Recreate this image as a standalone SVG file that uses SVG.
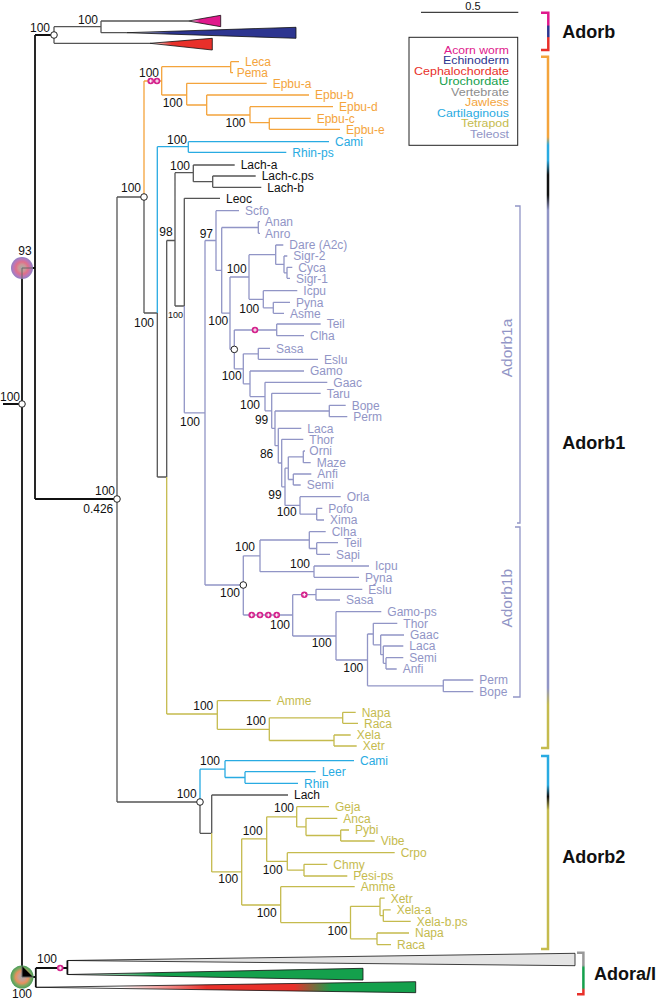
<svg xmlns="http://www.w3.org/2000/svg" xmlns:xlink="http://www.w3.org/1999/xlink" width="657" height="1000" viewBox="0 0 657 1000">
<style>
text{font-family:"Liberation Sans",Arial,sans-serif;font-size:12px}
.k{stroke:#111;stroke-width:1.8;fill:none}
.g{stroke:#555;stroke-width:1.3;fill:none}
.o{stroke:#f4a43c;stroke-width:1.3;fill:none}
.c{stroke:#29abe2;stroke-width:1.3;fill:none}
.t{stroke:#9195c6;stroke-width:1.3;fill:none}
.y{stroke:#c5bb4e;stroke-width:1.3;fill:none}
.n{fill:#111;text-anchor:end}
.ns{fill:#111;text-anchor:end;font-size:9px}
.lo{fill:#f4a43c}.lc{fill:#29abe2}.lk{fill:#111}.lt{fill:#9195c6}.ly{fill:#c5bb4e}
.grp{font-size:18px;font-weight:bold;fill:#111}
.sub{font-size:15.5px;fill:#9195c6;text-anchor:middle}
.leg{text-anchor:end;font-size:10.5px}
.oc{fill:#fff;stroke:#222;stroke-width:1}
.tri{stroke:#111;stroke-width:0.8}
</style>
<defs>
<g id="mk"><circle r="3.3" fill="#d4228c"/><path d="M-1.8,0H1.8M0,-1.8V1.8" stroke="#fff" stroke-width="1.1"/></g>
<linearGradient id="gM" x1="0" x2="1" y1="0" y2="0"><stop offset="0" stop-color="#fff"/><stop offset="0.35" stop-color="#e0188c"/></linearGradient>
<linearGradient id="gB" x1="0" x2="1" y1="0" y2="0"><stop offset="0" stop-color="#fff"/><stop offset="0.25" stop-color="#2d3590"/></linearGradient>
<linearGradient id="gR" x1="0" x2="1" y1="0" y2="0"><stop offset="0" stop-color="#fff"/><stop offset="0.35" stop-color="#e8302a"/></linearGradient>
<linearGradient id="gG" x1="0" x2="1" y1="0" y2="0"><stop offset="0" stop-color="#fff"/><stop offset="0.3" stop-color="#14a04c"/></linearGradient>
<linearGradient id="gRG" x1="0" x2="1" y1="0" y2="0"><stop offset="0" stop-color="#fff"/><stop offset="0.22" stop-color="#fff"/><stop offset="0.45" stop-color="#e8302a"/><stop offset="0.68" stop-color="#e8302a"/><stop offset="0.78" stop-color="#14a04c"/><stop offset="1" stop-color="#14a04c"/></linearGradient>
<linearGradient id="bA" gradientUnits="userSpaceOnUse" x1="0" y1="12.7" x2="0" y2="50"><stop offset="0.33" stop-color="#e0188c"/><stop offset="0.36" stop-color="#2d3590"/><stop offset="0.64" stop-color="#2d3590"/><stop offset="0.67" stop-color="#e8302a"/></linearGradient>
<linearGradient id="bA1" gradientUnits="userSpaceOnUse" x1="0" y1="56.7" x2="0" y2="748"><stop offset="0.116" stop-color="#f4a43c"/><stop offset="0.128" stop-color="#29abe2"/><stop offset="0.15" stop-color="#29abe2"/><stop offset="0.171" stop-color="#111"/><stop offset="0.2" stop-color="#111"/><stop offset="0.222" stop-color="#9195c6"/><stop offset="0.913" stop-color="#9195c6"/><stop offset="0.938" stop-color="#c5bb4e"/></linearGradient>
<linearGradient id="bA2" gradientUnits="userSpaceOnUse" x1="0" y1="756" x2="0" y2="949"><stop offset="0.15" stop-color="#29abe2"/><stop offset="0.21" stop-color="#111"/><stop offset="0.28" stop-color="#c5bb4e"/></linearGradient>
<linearGradient id="bAI" gradientUnits="userSpaceOnUse" x1="0" y1="952.7" x2="0" y2="994.3"><stop offset="0.3" stop-color="#999"/><stop offset="0.36" stop-color="#14a04c"/><stop offset="0.84" stop-color="#14a04c"/><stop offset="0.9" stop-color="#e8302a"/></linearGradient>
<radialGradient id="r93"><stop offset="0" stop-color="#a8a8a8"/><stop offset="0.3" stop-color="#c99a9a"/><stop offset="0.55" stop-color="#e0708a"/><stop offset="0.8" stop-color="#b878b8"/><stop offset="1" stop-color="#9080c4"/></radialGradient>
<radialGradient id="rRoot"><stop offset="0" stop-color="#a8a8a8"/><stop offset="0.3" stop-color="#c8a090"/><stop offset="0.55" stop-color="#e8905e"/><stop offset="0.78" stop-color="#7ea860"/><stop offset="1" stop-color="#4a9e5a"/></radialGradient>
</defs>

<g id="connectors">
<path class="k" d="M3,404H22M22,268V977M22,268H35M35,35V499M35,35H54M35,499H117M22,977H35.8M35.8,968V987.3M35.8,968H67.4M67.4,960.5V974.5"/>
<path class="g" d="M54,26.7V43.3M54,26.7H101M101,21V32.7M101,21H188.3M101,32.7H126.7M54,43.3H150"/>
<path class="g" d="M117,197V802M117,197H144M144,197V313M144,313H157.3M157.3,313V477M157.3,477H166.7M166.7,240.5V477M166.7,240.5H175M175,172.7V306M175,172.7H193.3M175,306H184.3M184.3,198.3V306M184.3,198.3H220M193.3,165V181.7M193.3,165H234.7M193.3,181.7H212.7M212.7,176V187.3M212.7,176H255.7M212.7,187.3H261.3M117,802H200M200,802V833.3M200,833.3H211.7M211.7,795V833.3M211.7,795H288"/>
<path class="o" d="M144,81V197M144,81H161.7M161.7,66.7V95M161.7,66.7H230.7M230.7,61.7V72.7M230.7,61.7H239M230.7,72.7H233M161.7,95H186.7M186.7,83.3V105M186.7,83.3H266.7M186.7,105H206.7M206.7,95V115M206.7,95H309M206.7,115H250M250,106.7V122.7M250,106.7H333M250,122.7H269.3M269.3,118.3V129.3M269.3,118.3H310.7M269.3,129.3H340"/>
<path class="c" d="M157.3,146.7V313M157.3,146.7H188.3M188.3,141.7V152.3M188.3,141.7H329M188.3,152.3H286.3"/>
<path class="t" d="M184.3,306V412.8M184.3,412.8H205M205,240.5V585M205,240.5H216M216,210.7V270.4M216,210.7H239M216,270.4H221.7M221.7,227.5V313.2M221.7,227.5H258.3M258.3,221.7V233.3M258.3,221.7H260M258.3,233.3H260M221.7,313.2H230M230,277V349.4M230,277H249M249,254.7V299.3M249,254.7H275.7M275.7,245V264.4M275.7,245H283.3M275.7,264.4H284M284,256V272.8M284,256H287.3M284,272.8H287M287,267.3V278.3M287,267.3H292.3M287,278.3H290M249,299.3H263.3M263.3,290.7V307.8M263.3,290.7H297.3M263.3,307.8H273.3M273.3,302.3V313.3M273.3,302.3H290M273.3,313.3H284M230,349.4H234.3M234.3,330V368.8M234.3,330H276.7M276.7,324V335.7M276.7,324H320.7M276.7,335.7H304M234.3,368.8H243.3M243.3,353.8V383.8M243.3,353.8H258.3M258.3,348.3V359.3M258.3,348.3H270M258.3,359.3H318M243.3,383.8H250M250,371V396.6M250,371H304M250,396.6H265M265,382.3V410.8M265,382.3H327.3M265,410.8H271.7M271.7,393.3V428.3M271.7,393.3H320.7M271.7,428.3H275M275,411V445.7M275,411H329.3M329.3,405.3V416.7M329.3,405.3H345.7M329.3,416.7H347.3M275,445.7H278.3M278.3,428.3V463M278.3,428.3H301.3M278.3,463H281.7M281.7,439.3V486.8M281.7,439.3H303.3M281.7,486.8H285M285,468.2V505.4M285,468.2H288.3M288.3,456.8V479.5M288.3,456.8H303.3M303.3,451V462.7M303.3,451H305M303.3,462.7H310.7M288.3,479.5H293.3M293.3,474V485M293.3,474H311.3M293.3,485H300.7M285,505.4H300M300,496.7V514.2M300,496.7H340.7M300,514.2H316.7M316.7,508.3V520M316.7,508.3H322.3M316.7,520H324"/>
<path class="t" d="M205,585H243.3M243.3,555.8V615M243.3,555.8H260M260,540V571.7M260,540H309.3M309.3,531.7V548.5M309.3,531.7H325.7M309.3,548.5H316.7M316.7,542.7V554.3M316.7,542.7H338M316.7,554.3H330M260,571.7H314M314,566V577.3M314,566H369M314,577.3H359M243.3,615H292.7M292.7,594.7V636M292.7,594.7H316M316,589.3V600M316,589.3H362.3M316,600H340M292.7,636H336M336,611.7V660M336,611.7H381.3M336,660H367.5M367.5,634V685.8M367.5,685.8H443.3M443.3,680V691.7M443.3,680H473.3M443.3,691.7H473.3M367.5,634H373.3M373.3,623.3V644.8M373.3,623.3H397.3M373.3,644.8H380.7M380.7,635V654.7M380.7,635H404M380.7,654.7H383.3M383.3,646V663.3M383.3,646H403.3M383.3,663.3H386M386,657.7V669M386,657.7H403.3M386,669H396.7"/>
<path class="y" d="M166.7,477V714M166.7,714H217.3M217.3,700.7V729.3M217.3,700.7H270.7M217.3,729.3H269.3M269.3,717.8V740.5M269.3,717.8H342.7M342.7,712.3V723.3M342.7,712.3H355.7M342.7,723.3H358M269.3,740.5H334M334,735V746M334,735H350.7M334,746H356.7"/>
<path class="c" d="M200,769.2V802M200,769.2H225M225,760.7V777.5M225,760.7H354M225,777.5H245M245,771.7V783.3M245,771.7H315.7M245,783.3H298"/>
<path class="y" d="M211.7,833.3V871.9M211.7,871.9H241.7M241.7,838.8V905M241.7,838.8H266.7M266.7,816.8V861.4M266.7,816.8H296.7M296.7,806.7V826.9M296.7,806.7H329M296.7,826.9H306M306,818.3V835.5M306,818.3H337.3M306,835.5H340.7M340.7,830V841M340.7,830H349M340.7,841H374.7M266.7,861.4H287.3M287.3,852.7V870.2M287.3,852.7H394.7M287.3,870.2H304M304,864.3V876M304,864.3H327.3M304,876H347.3M241.7,905H280.7M280.7,886.7V922.6M280.7,886.7H354.7M280.7,922.6H350.5M350.5,906.3V938.8M350.5,906.3H380M380,898.2V915.6M380,898.2H384.7M380,915.6H383.3M383.3,909.8V921.4M383.3,909.8H390.7M383.3,921.4H410.7M350.5,938.8H377M377,933V944.6M377,933H409M377,944.6H391"/>
</g>

<g id="collapsed">
<polygon class="tri" points="188.3,21 220.7,15.3 220.7,26.7" fill="url(#gM)"/>
<polygon class="tri" points="126.7,32.7 296,27.3 296,38.3" fill="url(#gB)"/>
<polygon class="tri" points="150,43.3 212.3,38.3 212.3,50" fill="url(#gR)"/>
<polygon class="tri" points="67.4,960.5 575,953.3 575,965.7" fill="#e4e4e4" stroke-width="1"/>
<polygon class="tri" points="67.4,974.5 363,968.3 363,980" fill="url(#gG)"/>
<polygon class="tri" points="35.8,987.3 415.7,981.7 415.7,992.7" fill="url(#gRG)"/>
</g>

<g id="nodes">
<circle cx="22" cy="268" r="11" fill="url(#r93)"/>
<path d="M22,268H33M22,268V279" stroke="#666" stroke-width="1"/>
<circle cx="22" cy="977" r="11.5" fill="url(#rRoot)"/>
<path d="M22,966V977H33" stroke="#666" stroke-width="1"/>
<circle class="oc" cx="54" cy="35" r="3.3"/>
<circle class="oc" cx="22" cy="404" r="3.3"/>
<circle class="oc" cx="117" cy="499" r="3.3"/>
<circle class="oc" cx="144" cy="197" r="3.3"/>
<circle class="oc" cx="234.3" cy="349.4" r="3.3"/>
<circle class="oc" cx="243.3" cy="585" r="3.3"/>
<circle class="oc" cx="200" cy="802" r="3.3"/>
<use href="#mk" x="150.7" y="81"/><use href="#mk" x="157" y="81"/>
<use href="#mk" x="255" y="330"/>
<use href="#mk" x="304.3" y="594.7"/>
<use href="#mk" x="251.7" y="615"/><use href="#mk" x="260" y="615"/><use href="#mk" x="268.3" y="615"/><use href="#mk" x="276.7" y="615"/>
<use href="#mk" x="60.2" y="968"/>
</g>

<g id="support">
<text class="n" x="50" y="32">100</text>
<text class="n" x="98" y="24">100</text>
<text class="n" x="25" y="255" style="text-anchor:middle">93</text>
<text class="n" x="20" y="401">100</text>
<text class="n" x="115" y="495">100</text>
<text class="n" x="113.3" y="513">0.426</text>
<text class="n" x="141" y="192">100</text>
<text class="n" x="159" y="76.5">100</text>
<text class="n" x="182.7" y="107">100</text>
<text class="n" x="245.5" y="126.5">100</text>
<text class="n" x="187" y="144">100</text>
<text class="n" x="190" y="170">100</text>
<text class="n" x="172.7" y="236">98</text>
<text class="n" x="213" y="237.5">97</text>
<text class="n" x="154" y="327">100</text>
<text class="ns" x="183" y="318">100</text>
<text class="n" x="246.7" y="273">100</text>
<text class="n" x="259.3" y="313">100</text>
<text class="n" x="228.3" y="325">100</text>
<text class="n" x="200" y="426">100</text>
<text class="n" x="241.7" y="380">100</text>
<text class="n" x="260" y="409">100</text>
<text class="n" x="268.3" y="424">99</text>
<text class="n" x="273.3" y="458">86</text>
<text class="n" x="281.7" y="499">99</text>
<text class="n" x="296.7" y="516">100</text>
<text class="n" x="255" y="551">100</text>
<text class="n" x="310" y="568">100</text>
<text class="n" x="240" y="597">100</text>
<text class="n" x="290" y="629">100</text>
<text class="n" x="331.7" y="647">100</text>
<text class="n" x="363.3" y="672">100</text>
<text class="n" x="213.3" y="709.7">100</text>
<text class="n" x="266" y="725">100</text>
<text class="n" x="220" y="765">100</text>
<text class="n" x="196.7" y="798">100</text>
<text class="n" x="294" y="812">100</text>
<text class="n" x="262.7" y="835">100</text>
<text class="n" x="282.7" y="874">100</text>
<text class="n" x="238.3" y="883">100</text>
<text class="n" x="276.7" y="917">100</text>
<text class="n" x="347.5" y="935">100</text>
<text class="n" x="57" y="963">100</text>
<text class="n" x="22" y="998" style="text-anchor:middle">100</text>
</g>

<g id="leaves">
<text class="lo" x="245" y="66">Leca</text>
<text class="lo" x="236.7" y="77">Pema</text>
<text class="lo" x="272.7" y="87.6">Epbu-a</text>
<text class="lo" x="315" y="99.3">Epbu-b</text>
<text class="lo" x="339" y="111">Epbu-d</text>
<text class="lo" x="316.7" y="122.6">Epbu-c</text>
<text class="lo" x="346" y="133.6">Epbu-e</text>
<text class="lc" x="335" y="146">Cami</text>
<text class="lc" x="292.3" y="156.6">Rhin-ps</text>
<text class="lk" x="240.7" y="169.3">Lach-a</text>
<text class="lk" x="261.7" y="180.3">Lach-c.ps</text>
<text class="lk" x="267.3" y="191.6">Lach-b</text>
<text class="lk" x="226" y="202.6">Leoc</text>
<text class="lt" x="245" y="215">Scfo</text>
<text class="lt" x="265" y="226">Anan</text>
<text class="lt" x="265" y="237.6">Anro</text>
<text class="lt" x="289.3" y="249.3">Dare (A2c)</text>
<text class="lt" x="293.3" y="260.3">Sigr-2</text>
<text class="lt" x="298.3" y="271.6">Cyca</text>
<text class="lt" x="296" y="282.6">Sigr-1</text>
<text class="lt" x="303.3" y="295">Icpu</text>
<text class="lt" x="296" y="306.6">Pyna</text>
<text class="lt" x="290" y="317.6">Asme</text>
<text class="lt" x="326.7" y="328.3">Teil</text>
<text class="lt" x="310" y="340">Clha</text>
<text class="lt" x="276" y="352.6">Sasa</text>
<text class="lt" x="324" y="363.6">Eslu</text>
<text class="lt" x="310" y="375.3">Gamo</text>
<text class="lt" x="333.3" y="386.6">Gaac</text>
<text class="lt" x="326.7" y="397.6">Taru</text>
<text class="lt" x="351.7" y="409.6">Bope</text>
<text class="lt" x="353.3" y="421">Perm</text>
<text class="lt" x="307.3" y="432.6">Laca</text>
<text class="lt" x="309.3" y="443.6">Thor</text>
<text class="lt" x="309.3" y="455.3">Orni</text>
<text class="lt" x="316.7" y="467">Maze</text>
<text class="lt" x="317.3" y="478.3">Anfi</text>
<text class="lt" x="306.7" y="489.3">Semi</text>
<text class="lt" x="346.7" y="501">Orla</text>
<text class="lt" x="328.3" y="512.6">Pofo</text>
<text class="lt" x="330" y="524.3">Xima</text>
<text class="lt" x="331.7" y="536">Clha</text>
<text class="lt" x="344" y="547">Teil</text>
<text class="lt" x="336" y="558.6">Sapi</text>
<text class="lt" x="375" y="570.3">Icpu</text>
<text class="lt" x="365" y="581.6">Pyna</text>
<text class="lt" x="368.3" y="593.6">Eslu</text>
<text class="lt" x="346" y="604.3">Sasa</text>
<text class="lt" x="387.3" y="616">Gamo-ps</text>
<text class="lt" x="403.3" y="627.6">Thor</text>
<text class="lt" x="410" y="639.3">Gaac</text>
<text class="lt" x="409.3" y="650.3">Laca</text>
<text class="lt" x="409.3" y="662">Semi</text>
<text class="lt" x="402.7" y="673.3">Anfi</text>
<text class="lt" x="479.3" y="684.3">Perm</text>
<text class="lt" x="479.3" y="696">Bope</text>
<text class="ly" x="276.7" y="705">Amme</text>
<text class="ly" x="361.7" y="716.6">Napa</text>
<text class="ly" x="364" y="727.6">Raca</text>
<text class="ly" x="356.7" y="739.3">Xela</text>
<text class="ly" x="362.7" y="750.3">Xetr</text>
<text class="lc" x="360" y="765">Cami</text>
<text class="lc" x="321.7" y="776">Leer</text>
<text class="lc" x="304" y="787.6">Rhin</text>
<text class="lk" x="294" y="799.3">Lach</text>
<text class="ly" x="335" y="811">Geja</text>
<text class="ly" x="343.3" y="822.6">Anca</text>
<text class="ly" x="355" y="834.3">Pybi</text>
<text class="ly" x="380.7" y="845.3">Vibe</text>
<text class="ly" x="400.7" y="857">Crpo</text>
<text class="ly" x="333.3" y="868.6">Chmy</text>
<text class="ly" x="353.3" y="880.3">Pesi-ps</text>
<text class="ly" x="360.7" y="891">Amme</text>
<text class="ly" x="390.7" y="902.5">Xetr</text>
<text class="ly" x="396.7" y="914.1">Xela-a</text>
<text class="ly" x="416.7" y="925.7">Xela-b.ps</text>
<text class="ly" x="415" y="937.3">Napa</text>
<text class="ly" x="397" y="948.9">Raca</text>
</g>

<g id="brackets">
<path d="M541,12.7H548.3V50H541" fill="none" stroke="url(#bA)" stroke-width="2.5"/>
<path d="M541,56.7H548V748H541" fill="none" stroke="url(#bA1)" stroke-width="2.5"/>
<path d="M541,756H548V949H541" fill="none" stroke="url(#bA2)" stroke-width="2.5"/>
<path d="M577,952.7H583.4V994.3H577" fill="none" stroke="url(#bAI)" stroke-width="2.5"/>
<path class="t" d="M515,206H520V523H517M515,527H520V697H513" stroke-width="1.5"/>
<text class="grp" x="562.3" y="38.3">Adorb</text>
<text class="grp" x="562.3" y="449.3">Adorb1</text>
<text class="grp" x="562.3" y="863">Adorb2</text>
<text class="grp" x="594" y="980">Adora/I</text>
<text class="sub" transform="translate(511.5,348) rotate(-90)">Adorb1a</text>
<text class="sub" transform="translate(511.5,598.3) rotate(-90)">Adorb1b</text>
</g>

<g id="legend">
<path d="M421,12.3H518.3" stroke="#111" stroke-width="1"/>
<text x="473" y="9.5" style="text-anchor:middle;fill:#111;font-size:11px">0.5</text>
<rect x="409" y="37.3" width="108.7" height="108" fill="none" stroke="#222" stroke-width="1"/>
<text class="leg" x="509" y="53.5" fill="#e0188c" textLength="65" lengthAdjust="spacingAndGlyphs">Acorn worm</text>
<text class="leg" x="509" y="64" fill="#2d3590" textLength="66" lengthAdjust="spacingAndGlyphs">Echinoderm</text>
<text class="leg" x="509" y="74.5" fill="#e8302a" textLength="95" lengthAdjust="spacingAndGlyphs">Cephalochordate</text>
<text class="leg" x="509" y="85" fill="#14a04c" textLength="70" lengthAdjust="spacingAndGlyphs">Urochordate</text>
<text class="leg" x="509" y="95.5" fill="#8c8c8c" textLength="58" lengthAdjust="spacingAndGlyphs">Vertebrate</text>
<text class="leg" x="509" y="106" fill="#f4a43c" textLength="44" lengthAdjust="spacingAndGlyphs">Jawless</text>
<text class="leg" x="509" y="116.5" fill="#29abe2" textLength="72" lengthAdjust="spacingAndGlyphs">Cartilaginous</text>
<text class="leg" x="509" y="127" fill="#c5bb4e" textLength="48" lengthAdjust="spacingAndGlyphs">Tetrapod</text>
<text class="leg" x="509" y="137.5" fill="#9195c6" textLength="39" lengthAdjust="spacingAndGlyphs">Teleost</text>
</g>
</svg>
